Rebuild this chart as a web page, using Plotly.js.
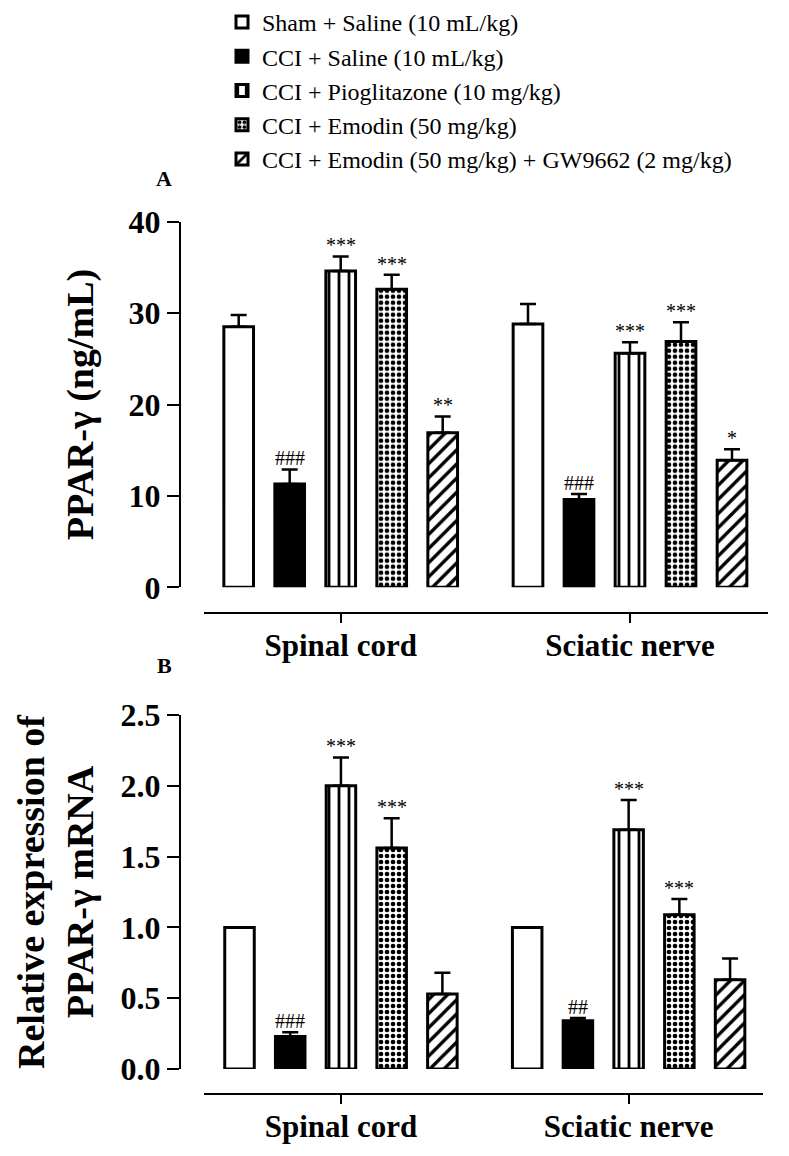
<!DOCTYPE html>
<html>
<head>
<meta charset="utf-8">
<script src="https://cdn.plot.ly/plotly-3.0.1.min.js"></script>
<style>html,body{margin:0;padding:0;background:#fff;}</style>
</head>
<body>
<div id="chart" style="width:789px;height:1156px;"></div>
<script>
// ---- data ----
const groups = ["Spinal cord", "Sciatic nerve"];
const seriesNames = [
  "Sham + Saline (10 mL/kg)",
  "CCI + Saline (10 mL/kg)",
  "CCI + Pioglitazone (10 mg/kg)",
  "CCI + Emodin (50 mg/kg)",
  "CCI + Emodin (50 mg/kg) + GW9662 (2 mg/kg)"
];
// Panel A: PPAR-γ (ng/mL), per series [Spinal cord, Sciatic nerve]
const pparMean = [[28.5, 28.8], [11.3, 9.6], [34.6, 25.6], [32.6, 26.9], [16.9, 13.9]];
const pparErr  = [[1.3, 2.2], [1.6, 0.6], [1.6, 1.2], [1.6, 2.1], [1.8, 1.2]];
const pparSig  = [["", ""], ["###", "###"], ["***", "***"], ["***", "***"], ["**", "*"]];
// Panel B: relative expression of PPAR-γ mRNA
const mrnaMean = [[1.0, 1.0], [0.23, 0.34], [2.0, 1.69], [1.56, 1.09], [0.53, 0.63]];
const mrnaErr  = [[0, 0], [0.03, 0.02], [0.2, 0.21], [0.21, 0.11], [0.15, 0.15]];
const mrnaSig  = [["", ""], ["###", "##"], ["***", "***"], ["***", "***"], ["", ""]];
const yTicksA = [0, 10, 20, 30, 40];
const yTicksB = [0, 0.5, 1.0, 1.5, 2.0, 2.5];

// ---- styles ----
const FONT = "Liberation Serif";
const styles = [
  {color: "#ffffff"},
  {color: "#000000"},
  {color: "#ffffff", pattern: {shape: "|", fgcolor: "#000", bgcolor: "#fff", size: 10, solidity: 0.28}},
  {color: "#ffffff", pattern: {shape: ".", fgcolor: "#000", bgcolor: "#fff", size: 6, solidity: 0.48}},
  {color: "#ffffff", pattern: {shape: "/", fgcolor: "#000", bgcolor: "#fff", size: 10, solidity: 0.34}}
];
const BARGAP = 0.1185, BARGROUPGAP = 0.418;
const slot = (1 - BARGAP) / seriesNames.length;

const traces = [];
const annotations = [];
function addPanel(means, errs, sigs, xa, ya, showLegend) {
  seriesNames.forEach((name, i) => {
    const m = {color: styles[i].color, line: {color: "#000", width: 3}};
    if (styles[i].pattern) m.pattern = styles[i].pattern;
    traces.push({
      type: "bar", name: name, x: groups, y: means[i],
      xaxis: xa, yaxis: ya, marker: m, showlegend: showLegend,
      error_y: {type: "data", symmetric: false, array: errs[i],
                arrayminus: errs[i].map(() => 0), color: "#000", thickness: 2.5, width: 8},
      hoverinfo: "y+name"
    });
    groups.forEach((g, j) => {
      if (sigs[i][j]) {
        annotations.push({
          xref: xa, yref: ya, x: j + (i - 2) * slot, y: means[i][j] + errs[i][j],
          text: sigs[i][j], showarrow: false, yanchor: "bottom", yshift: -2,
          font: {family: FONT, size: 20, color: "#000"}
        });
      }
    });
  });
}
addPanel(pparMean, pparErr, pparSig, "x", "y", true);
addPanel(mrnaMean, mrnaErr, mrnaSig, "x2", "y2", false);

const W = 789, H = 1156;
const px = v => v / W, py = v => 1 - v / H;

annotations.push({xref: "paper", yref: "paper", x: px(164), y: py(178), xanchor: "center", yanchor: "middle",
  text: "A", showarrow: false, font: {family: FONT, size: 22, color: "#000", weight: "bold"}});
annotations.push({xref: "paper", yref: "paper", x: px(164), y: py(666), xanchor: "center", yanchor: "middle",
  text: "B", showarrow: false, font: {family: FONT, size: 22, color: "#000", weight: "bold"}});

const xBase = {
  type: "category", categoryorder: "array", categoryarray: groups,
  anchor: "free", showline: true, linecolor: "#000", linewidth: 2,
  ticks: "outside", ticklen: 9, tickwidth: 2, tickcolor: "#000", ticklabelstandoff: -4,
  tickfont: {family: FONT, size: 31, color: "#000", weight: "bold"},
  showgrid: false, zeroline: false, fixedrange: true
};
const yBase = {
  anchor: "free", position: px(180), showline: true, linecolor: "#000", linewidth: 2,
  ticks: "outside", ticklen: 12, tickwidth: 2, tickcolor: "#000",
  tickfont: {family: FONT, size: 32, color: "#000", weight: "bold"},
  showgrid: false, zeroline: false, fixedrange: true, tickmode: "array"
};

const layout = {
  width: W, height: H, autosize: false,
  margin: {l: 0, r: 0, t: 0, b: 0},
  paper_bgcolor: "#fff", plot_bgcolor: "#fff",
  font: {family: FONT, color: "#000"},
  barmode: "group", bargap: BARGAP, bargroupgap: BARGROUPGAP,
  showlegend: true,
  legend: {x: px(222), y: 1, xanchor: "left", yanchor: "top", traceorder: "normal",
           font: {family: FONT, size: 24, color: "#000"}, bgcolor: "rgba(0,0,0,0)"},
  xaxis: Object.assign({}, xBase, {domain: [px(204), px(768)], position: py(612.7),
                                   range: [-0.4725, 1.477]}),
  yaxis: Object.assign({}, yBase, {domain: [py(587.3), py(221.7)], range: [0, 40],
    tickvals: yTicksA, ticktext: yTicksA.map(String),
    title: {text: "PPAR-γ (ng/mL)", standoff: 22,
            font: {family: FONT, size: 38, color: "#000", weight: "bold"}}}),
  xaxis2: Object.assign({}, xBase, {domain: [px(204), px(762.7)], position: py(1094),
                                    range: [-0.476, 1.466]}),
  yaxis2: Object.assign({}, yBase, {domain: [py(1069), py(715)], range: [0, 2.5],
    tickvals: yTicksB, ticktext: yTicksB.map(v => v.toFixed(1)),
    title: {text: "Relative expression of<br>PPAR-γ mRNA", standoff: 14,
            font: {family: FONT, size: 38, color: "#000", weight: "bold"}}}),
  annotations: annotations
};

Plotly.newPlot("chart", traces, layout, {displayModeBar: false, responsive: false});
</script>
</body>
</html>
